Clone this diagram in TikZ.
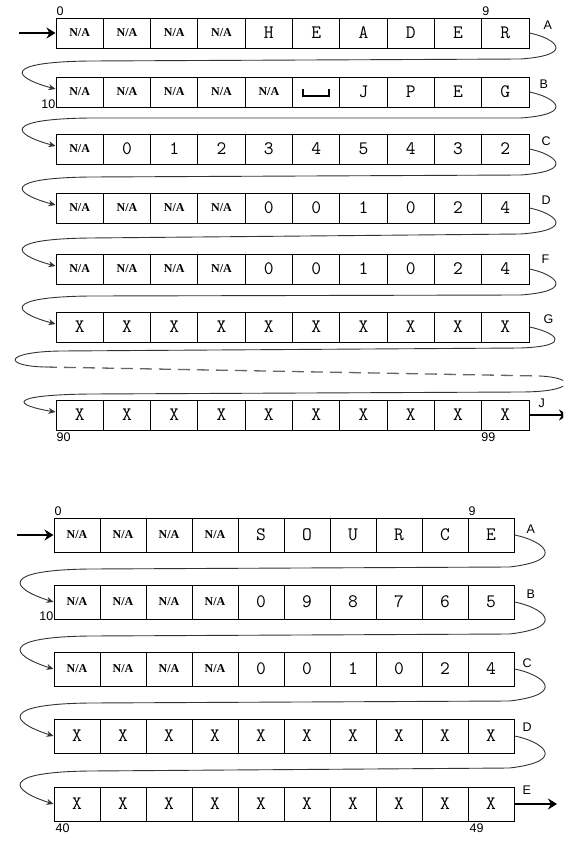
\documentclass[tikz,border=0pt]{standalone}
\usepackage{fontspec}
\setmainfont{Liberation Serif}
\newfontfamily\lblfont{Liberation Sans}
\usetikzlibrary{arrows.meta,calc}
\newcommand\NAx{{\rmfamily\bfseries\fontsize{12}{12}\selectfont N/A}}
\tikzset{
  cellT/.style={draw=black, line width=1pt, minimum width=47.3pt, minimum height=30pt, inner sep=0pt, font=\ttfamily\fontsize{19}{19}\selectfont},
  cellB/.style={draw=black, line width=1pt, minimum width=46pt, minimum height=34pt, inner sep=0pt, font=\ttfamily\fontsize{19}{19}\selectfont},
  lbl/.style={inner sep=0pt, font=\lblfont\fontsize{12.5}{12.5}\selectfont},
  conn/.style={draw=black!80, line width=0.9pt},
  tip/.style={-{Stealth[length=7pt,width=6pt]}},
  bigarrow/.style={line width=2.8pt, -{Stealth[length=9pt,width=11pt]}}
}
\newcommand\linkT[2]{%
  \draw[conn,tip] (#1.east) .. controls ($(#1.east)+(25,5)$) and ($(#1.east)+(48,22)$) .. ($(#1.east)+(-9,26)$)
    -- ($(#2.west)+(34,-31)$) .. controls ($(#2.west)+(-53,-30)$) and ($(#2.west)+(-44,-15)$) .. ($(#2.west)+(0,-3)$);}
\newcommand\linkB[2]{%
  \draw[conn,tip] (#1.east) .. controls ($(#1.east)+(27,5)$) and ($(#1.east)+(55,25)$) .. ($(#1.east)+(-5,32)$)
    -- ($(#2.west)+(36,-33)$) .. controls ($(#2.west)+(-54,-32)$) and ($(#2.west)+(-44,-14)$) .. (#2.west);}
\begin{document}
\begin{tikzpicture}[x=1pt,y=-1pt]
\useasboundingbox (0,0) rectangle (563,844);
\clip (0,0) rectangle (563,844);
\fill[white] (0,0) rectangle (563,844);
% ---------- top section ----------
\foreach \t [count=\i from 0] in {\NAx,\NAx,\NAx,\NAx,H,E,A,D,E,R}
  \node[cellT] (a\i) at (79.65+47.3*\i,33) {\t};
\foreach \t [count=\i from 0] in {\NAx,\NAx,\NAx,\NAx,\NAx,{},J,P,E,G}
  \node[cellT] (b\i) at (79.65+47.3*\i,92) {\t};
\foreach \t [count=\i from 0] in {\NAx,0,1,2,3,4,5,4,3,2}
  \node[cellT] (c\i) at (79.65+47.3*\i,149) {\t};
\foreach \t [count=\i from 0] in {\NAx,\NAx,\NAx,\NAx,0,0,1,0,2,4}
  \node[cellT] (d\i) at (79.65+47.3*\i,208) {\t};
\foreach \t [count=\i from 0] in {\NAx,\NAx,\NAx,\NAx,0,0,1,0,2,4}
  \node[cellT] (f\i) at (79.65+47.3*\i,269) {\t};
\foreach \t [count=\i from 0] in {X,X,X,X,X,X,X,X,X,X}
  \node[cellT] (g\i) at (79.65+47.3*\i,327) {\t};
\foreach \t [count=\i from 0] in {X,X,X,X,X,X,X,X,X,X}
  \node[cellT] (j\i) at (79.65+47.3*\i,415) {\t};
% visible space glyph
\draw[line width=2pt] ($(b5.center)+(-13,-3)$) -- ($(b5.center)+(-13,4)$) -- ($(b5.center)+(13,4)$) -- ($(b5.center)+(13,-3)$);
% labels
\node[lbl,anchor=south west] (t0) at ($(a0.north west)+(1,-2)$) {0};
\node[lbl,anchor=south west] (t9) at ($(a9.north west)+(1,-2)$) {9};
\node[lbl,anchor=south east] (t10) at ($(b0.south west)+(0,1)$) {10};
\node[lbl,anchor=north west] (t90) at ($(j0.south west)+(1,2)$) {90};
\node[lbl,anchor=north west] (t99) at ($(j9.south west)+(0,2)$) {99};
\node[lbl,anchor=west] (lA) at ($(a9.north east)+(14,8)$) {A};
\node[lbl,anchor=west] (lB) at ($(b9.north east)+(10,8)$) {B};
\node[lbl,anchor=west] (lC) at ($(c9.north east)+(12,8)$) {C};
\node[lbl,anchor=west] (lD) at ($(d9.north east)+(12,8)$) {D};
\node[lbl,anchor=west] (lF) at ($(f9.north east)+(12,6)$) {F};
\node[lbl,anchor=west] (lG) at ($(g9.north east)+(14,8)$) {G};
\node[lbl,anchor=west] (lJ) at ($(j9.north east)+(9,4)$) {J};
% arrows
\coordinate (inT) at (19,33);
\draw[bigarrow] (inT) -- (a0.west);
\coordinate (outJ) at (568,415);
\draw[bigarrow] (j9.east) -- (outJ);
\linkT{a9}{b0}
\linkT{b9}{c0}
\linkT{c9}{d0}
\linkT{d9}{f0}
\linkT{f9}{g0}
% G -> dashed -> J
\draw[conn] (g9.east) .. controls ($(g9.east)+(25,5)$) and ($(g9.east)+(46,19)$) .. ($(g9.east)+(-9,21)$)
   -- (60,351) .. controls (3,352) and (3,366) .. (45,367);
\draw[draw=black!60, line width=1.3pt, dash pattern=on 12pt off 7pt] (45,367) -- (540,376);
\draw[conn,tip] (540,376) .. controls (578,378) and (575,392) .. (520,392)
   -- ($(j0.west)+(34,-21)$) .. controls ($(j0.west)+(-50,-20)$) and ($(j0.west)+(-42,-10)$) .. ($(j0.west)+(0,-3)$);
% ---------- bottom section ----------
\foreach \t [count=\i from 0] in {\NAx,\NAx,\NAx,\NAx,S,O,U,R,C,E}
  \node[cellB] (p\i) at (77+46*\i,535) {\t};
\foreach \t [count=\i from 0] in {\NAx,\NAx,\NAx,\NAx,0,9,8,7,6,5}
  \node[cellB] (q\i) at (77+46*\i,602) {\t};
\foreach \t [count=\i from 0] in {\NAx,\NAx,\NAx,\NAx,0,0,1,0,2,4}
  \node[cellB] (r\i) at (77+46*\i,669) {\t};
\foreach \t [count=\i from 0] in {X,X,X,X,X,X,X,X,X,X}
  \node[cellB] (s\i) at (77+46*\i,736) {\t};
\foreach \t [count=\i from 0] in {X,X,X,X,X,X,X,X,X,X}
  \node[cellB] (u\i) at (77+46*\i,804) {\t};
\node[lbl,anchor=south west] (b0l) at ($(p0.north west)+(1,-2)$) {0};
\node[lbl,anchor=south west] (b9l) at ($(p9.north west)+(1,-2)$) {9};
\node[lbl,anchor=south east] (b10l) at ($(q0.south west)+(0,1)$) {10};
\node[lbl,anchor=north west] (b40l) at ($(u0.south west)+(2,2)$) {40};
\node[lbl,anchor=north west] (b49l) at ($(u9.south west)+(2,2)$) {49};
\node[lbl,anchor=west] (mA) at ($(p9.north east)+(12,12)$) {A};
\node[lbl,anchor=west] (mB) at ($(q9.north east)+(12,10)$) {B};
\node[lbl,anchor=west] (mC) at ($(r9.north east)+(8,12)$) {C};
\node[lbl,anchor=west] (mD) at ($(s9.north east)+(8,9)$) {D};
\node[lbl,anchor=west] (mE) at ($(u9.north east)+(8,4)$) {E};
\coordinate (inB) at (17,535);
\draw[bigarrow] (inB) -- (p0.west);
\coordinate (outE) at (557,804);
\draw[bigarrow] (u9.east) -- (outE);
\linkB{p9}{q0}
\linkB{q9}{r0}
\linkB{r9}{s0}
\linkB{s9}{u0}
\end{tikzpicture}
\end{document}
